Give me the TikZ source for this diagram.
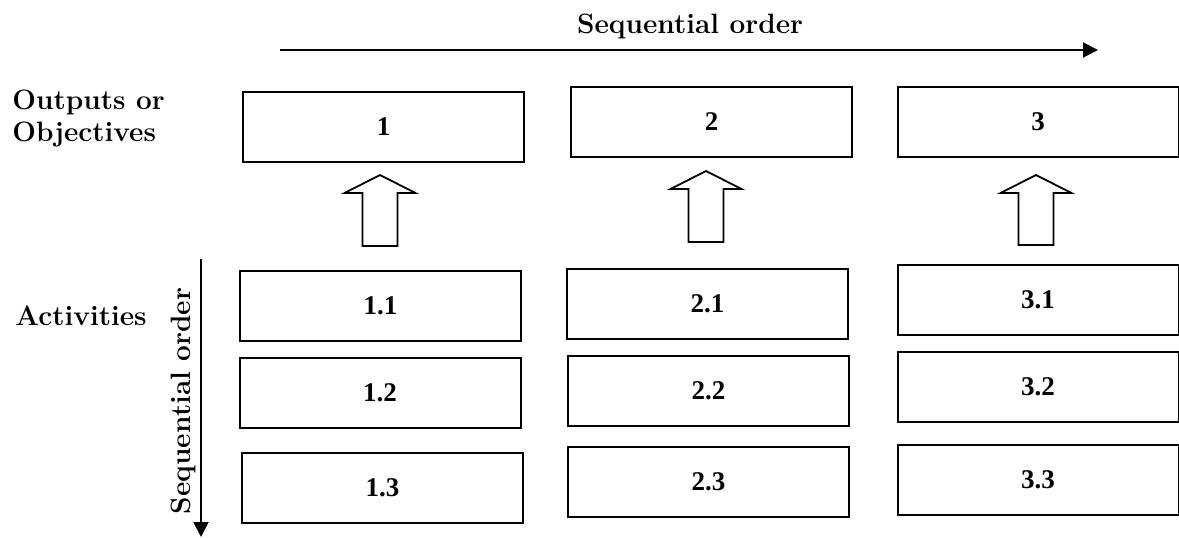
\documentclass[tikz,border=0pt]{standalone}
\usepackage{fontspec}
\newfontfamily\numfont{Liberation Serif}
\usetikzlibrary{arrows.meta}

\tikzset{
  box/.style={draw, line width=1pt, minimum width=140.5pt, minimum height=35pt,
    inner sep=0pt, font=\numfont\bfseries\fontsize{13.5}{14}\selectfont},
  lbl/.style={font=\bfseries\fontsize{14}{16}\selectfont, inner sep=0pt},
  seq/.style={line width=1pt, -{Triangle[length=7.5pt,width=7.5pt]}},
  hollow/.style={draw, line width=0.9pt, line join=miter}
}

\begin{document}
\begin{tikzpicture}[x=0.5pt, y=-0.5pt]
	\useasboundingbox (0,0) rectangle (1179,537);

	% outputs / objectives
	\node[box] (out1) at (383.5,127) {1};
	\node[box] (out2) at (711.5,122) {2};
	\node[box] (out3) at (1038,122) {3};

	% activities
	\foreach \n/\t/\x/\y in {11/1.1/380.5/306, 12/1.2/380/392.5, 13/1.3/382.5/488,
	                         21/2.1/707.5/303.5, 22/2.2/708.5/390.5, 23/2.3/708.5/482,
	                         31/3.1/1038/299.5, 32/3.2/1038/387, 33/3.3/1038/480}{%
	  \node[box] (act\n) at (\x,\y) {\t};
	}

	% row labels
	\node[lbl, anchor=west, align=left] (outlbl) at (12,119) {Outputs or\\Objectives};
	\node[lbl, anchor=west] (actlbl) at (15,316) {Activities};

	% sequential order arrows
	\node[lbl] (seqh) at (690,26) {Sequential order};
	\coordinate (hstart) at (280,50);
	\coordinate (hend) at (1098,50);
	\draw[seq] (hstart) -- (hend);

	\node[lbl, rotate=90] (seqv) at (183,401) {Sequential order};
	\coordinate (vstart) at (201,259);
	\coordinate (vend) at (201,537);
	\draw[seq] (vstart) -- (vend);

	% hollow block arrows
	\foreach \x/\tip/\bot in {380/175/246, 706/171/242, 1036/175/245}{%
	  \draw[hollow] ({\x-17.5},\bot) -- ({\x+17.5},\bot) -- ({\x+17.5},{\tip+18})
	    -- ({\x+35.5},{\tip+18}) -- (\x,\tip) -- ({\x-35.5},{\tip+18})
	    -- ({\x-17.5},{\tip+18}) -- cycle;
	}
\end{tikzpicture}
\end{document}
